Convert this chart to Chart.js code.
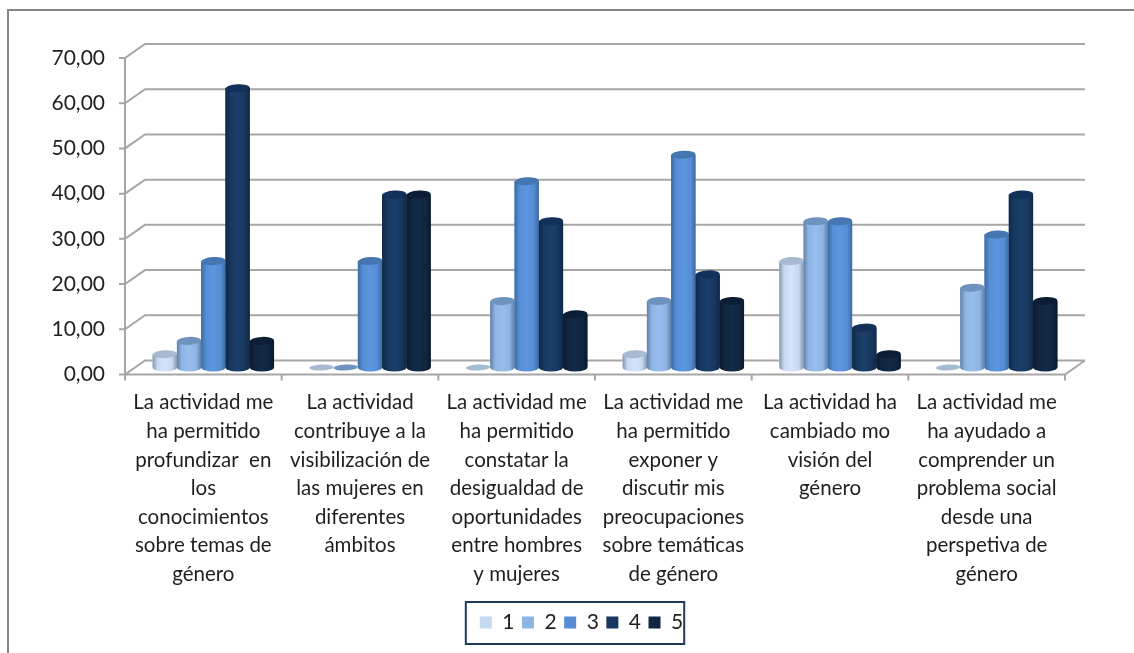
<!DOCTYPE html>
<html>
<head>
<meta charset="utf-8">
<script src="https://cdn.jsdelivr.net/npm/chart.js@4"></script>
<style>
    html, body { margin: 0; background: #fff; }
    #wrap { width: 1134px; height: 653px; }
</style>
</head>
<body>
<div id="wrap"><canvas id="chart" role="img" aria-label="Gráfico de barras con las respuestas 1 a 5 por afirmación"></canvas></div>
<script>
const categories = [
    ['La actividad me', 'ha permitido', 'profundizar  en', 'los', 'conocimientos', 'sobre temas de', 'género'],
    ['La actividad', 'contribuye a la', 'visibilización de', 'las mujeres en', 'diferentes', 'ámbitos'],
    ['La actividad me', 'ha permitido', 'constatar la', 'desigualdad de', 'oportunidades', 'entre hombres', 'y mujeres'],
    ['La actividad me', 'ha permitido', 'exponer y', 'discutir mis', 'preocupaciones', 'sobre temáticas', 'de género'],
    ['La actividad ha', 'cambiado mo', 'visión del', 'género'],
    ['La actividad me', 'ha ayudado a', 'comprender un', 'problema social', 'desde una', 'perspetiva de', 'género']
];
const seriesNames = ['1', '2', '3', '4', '5'];
const values1 = [2.94, 0, 0, 2.94, 23.53, 0];
const values2 = [5.88, 0, 14.71, 14.71, 32.35, 17.65];
const values3 = [23.53, 23.53, 41.18, 47.06, 32.35, 29.41];
const values4 = [61.76, 38.24, 32.35, 20.59, 8.82, 38.24];
const values5 = [5.88, 38.24, 11.76, 14.71, 2.94, 14.71];
const seriesValues = [values1, values2, values3, values4, values5];

const seriesColors = ['#C6D9F1', '#8DB4E3', '#558ED5', '#17375E', '#10253F'];
const topColors = ['#A6BAD2', '#6F93BF', '#4576B2', '#12305A', '#0C1E36'];
const edgeColors = ['#8497AE', '#5F7FA6', '#3E6A9F', '#0F2848', '#0A1A2E'];
const midColors = ['#D3E4FA', '#98BEEE', '#5C96E0', '#1B3F6B', '#132B49'];

const LINE = '#A6A6A6';
const TEXT = '#1F1F1F';
const DEPTH_X = 10;
const DEPTH_Y = 7;
const BAR_RY = 4;

// frame, floor and back wall of the fake 3D box
const boxPlugin = {
    id: 'box',
    afterLayout(chart) {
        // labels stick out of the narrow axis box, widen it so they are not clipped
        chart.scales.y.left = 20;
    },
    beforeDatasetsDraw(chart) {
        const {ctx, chartArea: a, scales: {y}} = chart;
        ctx.save();
        ctx.strokeStyle = '#868686';
        ctx.lineWidth = 2;
        ctx.beginPath();
        ctx.moveTo(8, 653);
        ctx.lineTo(8, 10);
        ctx.lineTo(1134, 10);
        ctx.stroke();

        ctx.strokeStyle = LINE;
        ctx.lineWidth = 2;
        ctx.beginPath();
        y.ticks.forEach(t => {
            const py = y.getPixelForValue(t.value);
            ctx.moveTo(a.left - DEPTH_X - 6, py + DEPTH_Y);
            ctx.lineTo(a.left - DEPTH_X, py + DEPTH_Y);
            ctx.lineTo(a.left + DEPTH_X, py - DEPTH_Y);
            ctx.lineTo(a.right + DEPTH_X, py - DEPTH_Y);
        });
        const y0 = y.getPixelForValue(0);
        const yMax = y.getPixelForValue(y.max);
        ctx.moveTo(a.left - DEPTH_X, yMax + DEPTH_Y);
        ctx.lineTo(a.left - DEPTH_X, y0 + DEPTH_Y);
        ctx.lineTo(a.right - DEPTH_X, y0 + DEPTH_Y);
        ctx.lineTo(a.right + DEPTH_X, y0 - DEPTH_Y);
        for (let i = 0; i <= categories.length; i++) {
            const px = a.left - DEPTH_X + (a.right - a.left) * i / categories.length;
            ctx.moveTo(px, y0 + DEPTH_Y);
            ctx.lineTo(px, y0 + DEPTH_Y + 6);
        }
        ctx.stroke();
        ctx.restore();
    },
    afterDatasetsDraw(chart) {
        const {ctx} = chart;
        ctx.save();
        chart.data.datasets.forEach((ds, di) => {
            chart.getDatasetMeta(di).data.forEach(bar => {
                const r = bar.width / 2;
                const left = bar.x - r;
                const right = bar.x + r;
                if (bar.base - bar.y < 0.5) {
                    ctx.fillStyle = topColors[di];
                    ctx.beginPath();
                    ctx.ellipse(bar.x, bar.base, r, BAR_RY - 1, -0.05, 0, Math.PI * 2);
                    ctx.fill();
                    return;
                }
                const g = ctx.createLinearGradient(left, 0, right, 0);
                g.addColorStop(0, edgeColors[di]);
                g.addColorStop(0.2, seriesColors[di]);
                g.addColorStop(0.5, midColors[di]);
                g.addColorStop(0.8, seriesColors[di]);
                g.addColorStop(1, edgeColors[di]);
                ctx.fillStyle = g;
                ctx.beginPath();
                ctx.moveTo(left, bar.y);
                ctx.lineTo(left, bar.base);
                ctx.ellipse(bar.x, bar.base, r, BAR_RY, 0, Math.PI, 0, true);
                ctx.lineTo(right, bar.y);
                ctx.closePath();
                ctx.fill();
                ctx.fillStyle = topColors[di];
                ctx.beginPath();
                ctx.ellipse(bar.x, bar.y, r, BAR_RY, -0.05, 0, Math.PI * 2);
                ctx.fill();
            });
        });
        ctx.restore();

        // border round the legend
        const l = chart.legend;
        const item = l.legendHitBoxes[0];
        const last = l.legendHitBoxes[l.legendHitBoxes.length - 1];
        ctx.save();
        ctx.strokeStyle = '#1F3B5C';
        ctx.lineWidth = 2;
        ctx.strokeRect(item.left - 14, item.top - 10, last.left + last.width - item.left + 15, 42);
        ctx.restore();
    }
};

new Chart(document.getElementById('chart'), {
    type: 'bar',
    data: {
        labels: categories,
        datasets: seriesNames.map((name, i) => ({
            label: name,
            data: seriesValues[i],
            backgroundColor: seriesColors[i],
            borderWidth: 0
        }))
    },
    options: {
        responsive: true,
        maintainAspectRatio: false,
        animation: false,
        layout: {padding: {left: 88, right: 59, top: 51, bottom: 10}},
        categoryPercentage: 0.775,
        barPercentage: 1,
        scales: {
            x: {
                grid: {display: false},
                border: {display: false},
                afterFit(scale) { scale.height = 237; },
                ticks: {
                    autoSkip: false,
                    maxRotation: 0,
                    labelOffset: -10,
                    padding: 13,
                    color: TEXT,
                    font: {family: 'Lato', size: 20.5, lineHeight: 1.395}
                }
            },
            y: {
                min: 0,
                max: 70,
                grid: {display: false},
                border: {display: false},
                afterFit(scale) { scale.width = 47; },
                ticks: {
                    stepSize: 10,
                    padding: 22,
                    labelOffset: 7,
                    color: TEXT,
                    font: {family: 'Lato', size: 21},
                    callback: v => v.toFixed(2).replace('.', ',')
                }
            }
        },
        plugins: {
            tooltip: {enabled: false},
            legend: {
                position: 'bottom',
                labels: {
                    boxWidth: 12,
                    boxHeight: 12,
                    padding: 7.5,
                    color: TEXT,
                    font: {family: 'Lato', size: 21}
                }
            }
        }
    },
    plugins: [boxPlugin]
});
</script>
</body>
</html>
